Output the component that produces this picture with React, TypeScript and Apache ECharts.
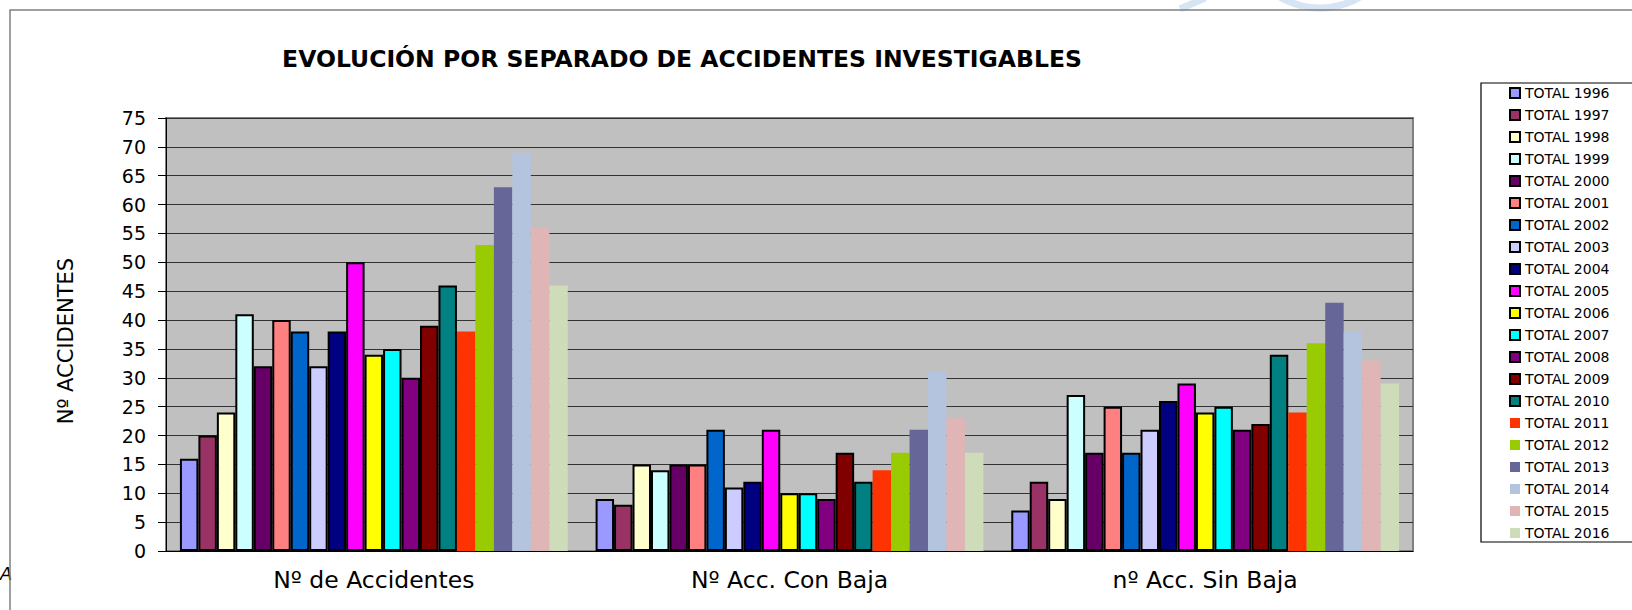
import React, { useEffect, useRef } from "react";
import * as echarts from "echarts";

const categories = ["Nº de Accidentes", "Nº Acc. Con Baja", "nº Acc. Sin Baja"];
const years = [
  "1996", "1997", "1998", "1999", "2000", "2001", "2002", "2003", "2004", "2005",
  "2006", "2007", "2008", "2009", "2010", "2011", "2012", "2013", "2014", "2015", "2016",
];
const accidentes = [16, 20, 24, 41, 32, 40, 38, 32, 38, 50, 34, 35, 30, 39, 46, 38, 53, 63, 69, 56, 46];
const conBaja = [9, 8, 15, 14, 15, 15, 21, 11, 12, 21, 10, 10, 9, 17, 12, 14, 17, 21, 31, 23, 17];
const sinBaja = [7, 12, 9, 27, 17, 25, 17, 21, 26, 29, 24, 25, 21, 22, 34, 24, 36, 43, 38, 33, 29];
const yTicks = { min: 0, max: 75, interval: 5 };

const colors = [
  "#9999FF", "#993366", "#FFFFCC", "#CCFFFF", "#660066", "#FF8080", "#0066CC", "#CCCCFF",
  "#000080", "#FF00FF", "#FFFF00", "#00FFFF", "#800080", "#800000", "#008080", "#FF3300",
  "#99CC00", "#666699", "#B4C3DE", "#DFB5B5", "#CFDCB9",
];
const borderedCount = 15;

const FONT = "DejaVu Sans";

export default function App() {
  const ref = useRef<HTMLDivElement>(null);
  useEffect(() => {
    if (!ref.current) return;
    const chart = echarts.init(ref.current, null, { renderer: "svg" });
    const series = years.map((y, i) => ({
      name: "TOTAL " + y,
      type: "bar",
      barGap: "0%",
      barCategoryGap: "6.7%",
      data: [accidentes[i], conBaja[i], sinBaja[i]],
      itemStyle:
        i < borderedCount
          ? { color: colors[i], borderColor: "#000000", borderWidth: 2 }
          : { color: colors[i], borderWidth: 0 },
    }));
    chart.setOption({
      animation: false,
      backgroundColor: "#ffffff",
      title: {
        text: "EVOLUCIÓN POR SEPARADO DE ACCIDENTES INVESTIGABLES",
        left: 677,
        top: 54,
        textAlign: "center",
        textVerticalAlign: "middle",
        textStyle: { fontFamily: FONT, fontWeight: "bold", fontSize: 23.5, color: "#000" },
      },
      grid: {
        left: 166,
        top: 118,
        width: 1247,
        height: 433,
        show: true,
        backgroundColor: "#C0C0C0",
        borderColor: "#808080",
        borderWidth: 2,
      },
      legend: {
        orient: "vertical",
        left: 1509,
        top: 86,
        itemWidth: 10,
        itemHeight: 10,
        itemGap: 8,
        icon: "rect",
        textStyle: { fontFamily: FONT, fontSize: 14, lineHeight: 14, color: "#000" },
        padding: 0,
        selectedMode: false,
      },
      xAxis: {
        type: "category",
        data: categories,
        axisLine: { lineStyle: { color: "#000", width: 1 } },
        axisTick: { length: 6, lineStyle: { color: "#000" } },
        axisLabel: { fontFamily: FONT, fontSize: 23.5, color: "#000", margin: 17 },
      },
      yAxis: {
        type: "value",
        min: yTicks.min,
        max: yTicks.max,
        interval: yTicks.interval,
        axisLine: { show: true, lineStyle: { color: "#000", width: 1 } },
        axisTick: { show: true, length: 8, lineStyle: { color: "#000" } },
        axisLabel: { fontFamily: FONT, fontSize: 19, color: "#000", margin: 20 },
        splitLine: { lineStyle: { color: "#333333", width: 1 } },
      },
      graphic: [
        {
          type: "arc",
          z: 0,
          shape: { cx: 1320, cy: -70, r: 78, startAngle: 0.3, endAngle: 2.6 },
          style: { stroke: "#D6E4F4", lineWidth: 7, fill: "none" },
        },
        {
          type: "line",
          z: 0,
          shape: { x1: 1180, y1: 9, x2: 1205, y2: -2 },
          style: { stroke: "#D6E4F4", lineWidth: 7 },
        },
        {
          type: "text",
          x: 0,
          y: 573,
          z: 0,
          style: { text: "A", fontFamily: FONT, fontSize: 18, fontStyle: "italic", fill: "#000", textVerticalAlign: "middle" },
        },
        {
          type: "rect",
          z: 1,
          shape: { x: 10, y: 10, width: 1700, height: 700 },
          style: { fill: "none", stroke: "#808080", lineWidth: 1.5 },
        },
        {
          type: "rect",
          z: -1,
          shape: { x: 1481, y: 83, width: 200, height: 459 },
          style: { fill: "#ffffff", stroke: "#000000", lineWidth: 1.2 },
        },
        {
          type: "text",
          x: 66,
          y: 341,
          rotation: Math.PI / 2,
          style: {
            text: "Nº ACCIDENTES",
            fontFamily: FONT,
            fontSize: 21,
            fill: "#000",
            textAlign: "center",
            textVerticalAlign: "middle",
          },
        },
      ],
      series,
    });
    return () => chart.dispose();
  }, []);
  return <div ref={ref} style={{ width: 1632, height: 610, position: "absolute", left: 0, top: 0 }} />;
}
